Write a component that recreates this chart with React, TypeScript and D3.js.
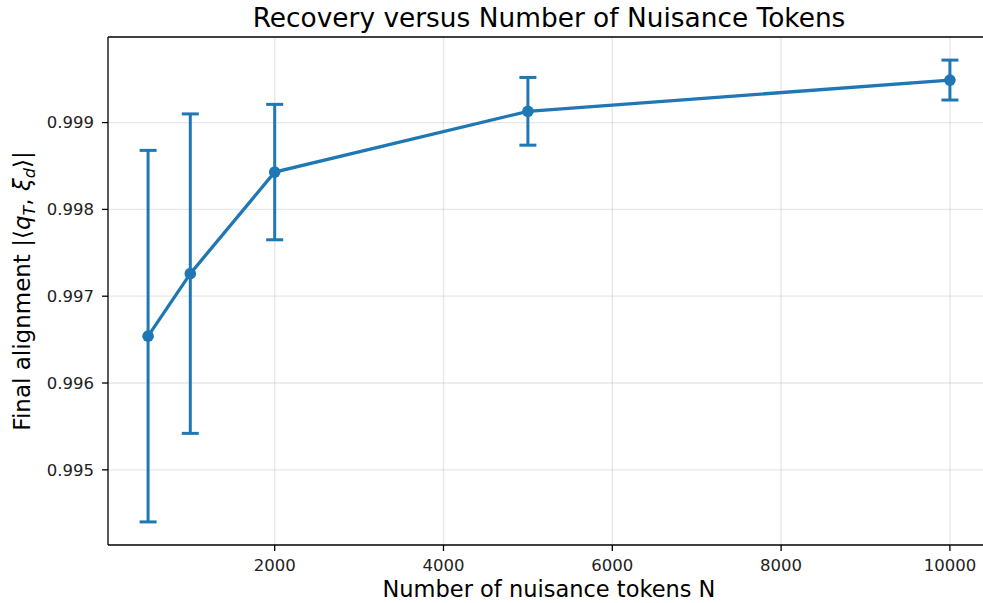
import React from "react";
import { scaleLinear, line } from "d3";

const tokens = [500, 1000, 2000, 5000, 10000];
const alignment = [0.99654, 0.99726, 0.99843, 0.99913, 0.99949];
const errors = [0.00214, 0.00184, 0.00078, 0.00039, 0.00023];
const xTicks = [2000, 4000, 6000, 8000, 10000];
const yTicks = [0.995, 0.996, 0.997, 0.998, 0.999];

const width = 983;
const height = 603;
const margin = { top: 37, right: -7, bottom: 58, left: 108 };
const innerWidth = width - margin.left - margin.right;
const innerHeight = height - margin.top - margin.bottom;
const color = "#1f77b4";
const font = "DejaVu Sans, sans-serif";

export default function App() {
  const lo = Math.min(...alignment.map((d, i) => d - errors[i]));
  const hi = Math.max(...alignment.map((d, i) => d + errors[i]));
  const padY = (hi - lo) * 0.05;
  const padX = (10000 - 500) * 0.05;

  const x = scaleLinear().domain([500 - padX, 10000 + padX]).range([0, innerWidth]);
  const y = scaleLinear().domain([lo - padY, hi + padY]).range([innerHeight, 0]);

  const path = line<number>()
    .x((d, i) => x(tokens[i]))
    .y((d) => y(d))(alignment);

  return (
    <svg
      width={width}
      height={height}
      style={{ position: "absolute", left: 0, top: 0, background: "white" }}
      fontFamily={font}
    >
      <text x={margin.left + innerWidth / 2} y={27} textAnchor="middle" fontSize={26.4} fill="#000">
        Recovery versus Number of Nuisance Tokens
      </text>
      <g transform={`translate(${margin.left},${margin.top})`}>
        {xTicks.map((t) => (
          <g key={t} transform={`translate(${x(t)},0)`}>
            <line y1={0} y2={innerHeight} stroke="#b0b0b0" strokeOpacity={0.3} strokeWidth={1.3} />
            <line y1={innerHeight} y2={innerHeight + 6} stroke="#000" strokeWidth={1.3} />
            <text y={innerHeight + 26} textAnchor="middle" fontSize={16.5} fill="#222">
              {t}
            </text>
          </g>
        ))}
        {yTicks.map((t) => (
          <g key={t} transform={`translate(0,${y(t)})`}>
            <line x1={0} x2={innerWidth} stroke="#b0b0b0" strokeOpacity={0.3} strokeWidth={1.3} />
            <line x1={-6} x2={0} stroke="#000" strokeWidth={1.3} />
            <text x={-14} dy="0.35em" textAnchor="end" fontSize={16.5} fill="#222">
              {t.toFixed(3)}
            </text>
          </g>
        ))}
        {alignment.map((d, i) => (
          <g key={i} stroke={color} strokeWidth={3}>
            <line x1={x(tokens[i])} x2={x(tokens[i])} y1={y(d - errors[i])} y2={y(d + errors[i])} />
            <line x1={x(tokens[i]) - 8.5} x2={x(tokens[i]) + 8.5} y1={y(d - errors[i])} y2={y(d - errors[i])} />
            <line x1={x(tokens[i]) - 8.5} x2={x(tokens[i]) + 8.5} y1={y(d + errors[i])} y2={y(d + errors[i])} />
          </g>
        ))}
        <path d={path ?? ""} fill="none" stroke={color} strokeWidth={3.3} />
        {alignment.map((d, i) => (
          <circle key={i} cx={x(tokens[i])} cy={y(d)} r={5.8} fill={color} />
        ))}
        <line x1={0} x2={0} y1={0} y2={innerHeight} stroke="#000" strokeWidth={1.3} />
        <line x1={0} x2={innerWidth} y1={innerHeight} y2={innerHeight} stroke="#000" strokeWidth={1.3} />
        <line x1={0} x2={innerWidth} y1={0} y2={0} stroke="#000" strokeWidth={1.3} />
      </g>
      <text x={margin.left + innerWidth / 2} y={597} textAnchor="middle" fontSize={22.5} fill="#000">
        Number of nuisance tokens N
      </text>
      <text
        transform={`translate(30,${margin.top + innerHeight / 2}) rotate(-90)`}
        textAnchor="middle"
        fontSize={23}
        fill="#000"
      >
        Final alignment |⟨<tspan fontStyle="italic">q</tspan>
        <tspan fontSize={16} dy={5} fontStyle="italic">T</tspan>
        <tspan dy={-5}>, </tspan>
        <tspan fontStyle="italic">ξ</tspan>
        <tspan fontSize={16} dy={5} fontStyle="italic">d</tspan>
        <tspan dy={-5}>⟩|</tspan>
      </text>
    </svg>
  );
}
